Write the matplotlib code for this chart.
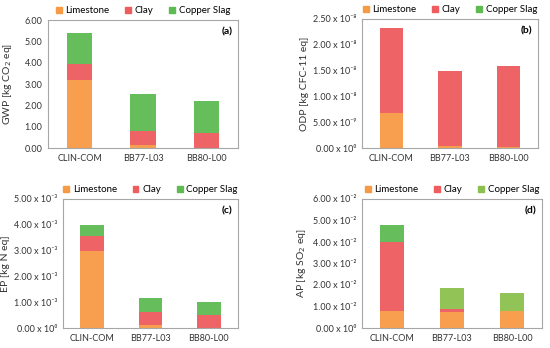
import numpy as np
import matplotlib
matplotlib.use("Agg")
import matplotlib.pyplot as plt
from matplotlib.ticker import FixedLocator, FuncFormatter

plt.rcParams['font.family'] = ['Lato', 'DejaVu Sans']

mixes = ["CLIN-COM", "BB77-L03", "BB80-L00"]
components = ["Limestone", "Clay", "Copper Slag"]

# GWP [kg CO2 eq]
gwp_limestone = [3.20, 0.12, 0.01]
gwp_clay = [0.74, 0.66, 0.68]
gwp_slag = [1.46, 1.74, 1.52]

# ODP [kg CFC-11 eq]
odp_limestone = [6.8e-9, 3.0e-10, 1.0e-10]
odp_clay = [1.65e-8, 1.47e-8, 1.57e-8]
odp_slag = [0.0, 0.0, 0.0]

# EP [kg N eq]
ep_limestone = [3.00e-3, 0.13e-3, 0.01e-3]
ep_clay = [0.56e-3, 0.49e-3, 0.51e-3]
ep_slag = [0.45e-3, 0.54e-3, 0.47e-3]

# AP [kg SO2 eq]
ap_limestone = [0.80e-2, 0.73e-2, 0.79e-2]
ap_clay = [3.19e-2, 0.14e-2, 0.0]
ap_slag = [0.82e-2, 0.99e-2, 0.83e-2]

orange = "#F79A45"
red = "#EE5C5E"
green = "#5DBB52"
yellow_green = "#8CC04E"

SUP = str.maketrans("-0123456789", "⁻⁰¹²³⁴⁵⁶⁷⁸⁹")


def sci_label(v, pos=None):
    # Excel style "2.50 x 10⁻⁸"
    mant, exp = ("%.2e" % v).split("e")
    return "%s x 10%s" % (mant, str(int(exp)).translate(SUP))


def draw_panel(ax, values, slag_colors, legend_slag, ylabel, ymax, step, tag, sci, ylab_x):
    x = np.arange(len(mixes))
    bottom = np.zeros(len(mixes))
    colors = [orange, red, slag_colors]
    for vals, col in zip(values, colors):
        ax.bar(x, vals, width=0.4, bottom=bottom, color=col, alpha=0.95, zorder=2)
        bottom += np.array(vals)
    handles = [plt.Rectangle((0, 0), 1, 1, color=c) for c in [orange, red, legend_slag]]
    ax.legend(handles, components, ncol=3, loc="lower center", bbox_to_anchor=(0.5, 1.0),
              frameon=False, fontsize=7, handlelength=0.6, handleheight=0.6,
              handletextpad=0.4, columnspacing=1.6, borderaxespad=0.1)
    ax.set_xlim(-0.5, 2.5)
    ax.set_ylim(0, ymax)
    ticks = [i * step for i in range(int(round(ymax / step)) + 1)]
    ax.yaxis.set_major_locator(FixedLocator(ticks))
    if sci:
        ax.yaxis.set_major_formatter(FuncFormatter(sci_label))
    else:
        ax.yaxis.set_major_formatter(FuncFormatter(lambda v, p: "%.2f" % v))
    ax.set_xticks(x)
    ax.set_xticklabels(mixes)
    ax.tick_params(length=0, labelsize=6.5, colors="#333333", pad=4)
    ax.set_ylabel(ylabel, fontsize=7.5, color="#333333")
    ax.yaxis.set_label_coords(ylab_x, 0.5)
    for s in ax.spines.values():
        s.set_color("#A6A6A6")
        s.set_linewidth(0.8)
    ax.text(0.97, 0.94, tag, transform=ax.transAxes, ha="right", va="top",
            fontsize=7.5, fontweight="bold")


fig = plt.figure(figsize=(5.5, 3.48), dpi=100)
W, H = 550.0, 348.0


def add_axes(left, right, top, bottom):
    return fig.add_axes([left / W, 1 - bottom / H, (right - left) / W, (bottom - top) / H])


ax_a = add_axes(48, 238, 20, 148)
ax_b = add_axes(362, 538, 19, 148)
ax_c = add_axes(63, 238, 199, 328)
ax_d = add_axes(362, 542, 199, 328)

draw_panel(ax_a, [gwp_limestone, gwp_clay, gwp_slag], green, green,
           "GWP [kg CO$_2$ eq]", 6.0, 1.0, "(a)", False, -0.18)
draw_panel(ax_b, [odp_limestone, odp_clay, odp_slag], green, green,
           "ODP [kg CFC-11 eq]", 2.5e-8, 5e-9, "(b)", True, -0.30)
draw_panel(ax_c, [ep_limestone, ep_clay, ep_slag], green, green,
           "EP [kg N eq]", 5e-3, 1e-3, "(c)", True, -0.30)
draw_panel(ax_d, [ap_limestone, ap_clay, ap_slag], [green, yellow_green, yellow_green],
           yellow_green, "AP [kg SO$_2$ eq]", 6e-2, 1e-2, "(d)", True, -0.30)

fig.savefig("out.png", dpi=100)
